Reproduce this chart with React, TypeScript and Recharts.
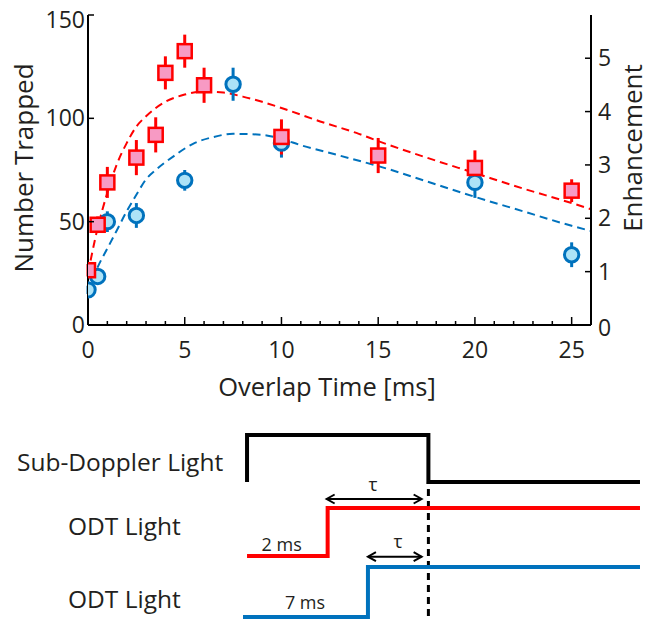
import React from 'react';
import {
  ComposedChart,
  LineChart,
  Line,
  Scatter,
  XAxis,
  YAxis,
  ErrorBar,
  ReferenceLine,
} from 'recharts';

const FONT = '"Open Sans", sans-serif';
const TEXT = '#231f20';
const RED = '#ff0000';
const PINK = '#f79ac4';
const BLUE = '#0072bd';
const LIGHTBLUE = '#ade3f7';

// ---- measured data (2 ms ODT, red squares) ----
const redX = [0, 0.5, 1, 2.5, 3.5, 4, 5, 6, 10, 15, 20, 25];
const redY = [26.5, 48.5, 69, 81, 92, 122, 132.5, 116, 91, 82, 76, 65];
const redErr = [3, 4, 7.5, 8.5, 8.5, 8, 8, 8.5, 8.5, 8.5, 8.5, 5.5];

// ---- measured data (7 ms ODT, blue circles) ----
const blueX = [0, 0.5, 1, 2.5, 5, 7.5, 10, 20, 25];
const blueY = [17, 23.5, 50, 53, 70, 116.5, 88, 69, 34];
const blueErr = [2, 2, 5, 6, 5, 8, 7, 7.5, 6];

// ---- fit curves ----
const redFitX = [0, 0.5, 1, 1.5, 2, 2.5, 3, 4, 5, 6, 7, 8, 9, 10, 12, 14, 15, 17.5, 20, 22.5, 25, 26];
const redFitY = [25, 47, 64, 78, 88, 96, 101, 108, 111.5, 113, 112.5, 110.5, 108, 105, 98.5, 92.5, 89, 81, 73.5, 66, 59, 56];
const blueFitX = [0, 0.5, 1, 1.5, 2, 2.5, 3, 3.5, 4.4, 5.5, 6.5, 7.5, 9, 10, 11, 13, 15.4, 17.5, 20, 22.5, 25, 26];
const blueFitY = [16, 28, 37, 46, 55, 63, 70.5, 75, 81.5, 88, 91, 92.5, 92, 90, 87, 82, 75.8, 69.5, 62, 55, 48, 45.5];

// ---- axes ----
const xTicks = [0, 1, 2, 3, 4, 5, 6, 7, 8, 9, 10, 11, 12, 13, 14, 15, 16, 17, 18, 19, 20, 21, 22, 23, 24, 25];
const leftTicks = [0, 50, 100, 150];
const rightTicks = [0, 1, 2, 3, 4, 5];

// ---- timing diagram (schematic units) ----
const subDoppler = [
  { t: -18, v: 13.7 },
  { t: 0, v: 18.4 },
  { t: 21, v: 13.7 },
];
const odt2 = [
  { t: -18, v: 6.3 },
  { t: -10, v: 11.1 },
  { t: 21, v: 11.1 },
];
const odt7 = [
  { t: -18.4, v: 0.2 },
  { t: -6, v: 5.2 },
  { t: 21, v: 5.2 },
];

const redPts = redX.map((x, i) => ({ x, y: redY[i], e: redErr[i] }));
const bluePts = blueX.map((x, i) => ({ x, y: blueY[i], e: blueErr[i] }));
const redFit = redFitX.map((x, i) => ({ x, y: redFitY[i] }));
const blueFit = blueFitX.map((x, i) => ({ x, y: blueFitY[i] }));

const BottomTick = (props: any) => {
  const { x, y, payload } = props;
  const v = payload.value;
  const major = v % 5 === 0;
  return (
    <g>
      <line x1={x} x2={x} y1={y} y2={y - (major ? 8 : 4)} stroke="#000" strokeWidth={1.5} />
      {major && (
        <text x={x} y={y + 33} textAnchor="middle" fill={TEXT} fontSize={23} fontFamily={FONT}>
          {v}
        </text>
      )}
    </g>
  );
};

const TopTick = (props: any) => {
  const { x, y, payload } = props;
  const major = payload.value % 5 === 0;
  return <line x1={x} x2={x} y1={y} y2={y + (major ? 8 : 4)} stroke="#000" strokeWidth={1.5} />;
};

const LeftTick = (props: any) => {
  const { x, y, payload } = props;
  const v = payload.value;
  const dy = v === 150 ? 5 : 0;
  return (
    <g>
      <line x1={x} x2={x + 6} y1={y} y2={y} stroke="#000" strokeWidth={1.5} />
      <text x={x - 3} y={y + 8 + dy} textAnchor="end" fill={TEXT} fontSize={23} fontFamily={FONT}>
        {v}
      </text>
    </g>
  );
};

const RightTick = (props: any) => {
  const { x, y, payload } = props;
  const v = payload.value;
  const dy = v === 0 ? 3 : 0;
  return (
    <g>
      <line x1={x} x2={x - 6} y1={y} y2={y} stroke="#000" strokeWidth={1.5} />
      <text x={x + 7} y={y + 8 + dy} textAnchor="start" fill={TEXT} fontSize={23} fontFamily={FONT}>
        {v}
      </text>
    </g>
  );
};

const Square = (props: any) => {
  const { cx, cy } = props;
  if (cx == null || cy == null) return null;
  return <rect x={cx - 7} y={cy - 7} width={14} height={14} fill={PINK} stroke={RED} strokeWidth={2.5} />;
};

const Circle = (props: any) => {
  const { cx, cy } = props;
  if (cx == null || cy == null) return null;
  return <circle cx={cx} cy={cy} r={7.2} fill={LIGHTBLUE} stroke={BLUE} strokeWidth={3} />;
};

const Arrow = (props: any) => {
  const { x1, y1, x2, y2 } = props;
  if (x1 == null) return null;
  const h = 8;
  const w = 4.5;
  return (
    <g stroke="#000" strokeWidth={2} fill="none">
      <line x1={x1} y1={y1} x2={x2} y2={y2} />
      <polyline points={`${x1 + h},${y1 - w} ${x1},${y1} ${x1 + h},${y1 + w}`} />
      <polyline points={`${x2 - h},${y2 - w} ${x2},${y2} ${x2 - h},${y2 + w}`} />
    </g>
  );
};

// tx = baseline position (rotated text reads bottom-to-top), ty = centre
const YTitle = ({ text, tx, ty }: any) => (
  <text
    x={tx}
    y={ty}
    transform={`rotate(-90 ${tx} ${ty})`}
    textAnchor="middle"
    fill={TEXT}
    fontSize={26}
    fontFamily={FONT}
  >
    {text}
  </text>
);

const XTitle = ({ text, tx, ty }: any) => (
  <text x={tx} y={ty} textAnchor="middle" fill={TEXT} fontSize={25.5} fontFamily={FONT}>
    {text}
  </text>
);

export default function App() {
  return (
    <div style={{ position: 'absolute', left: 0, top: 0, width: 650, height: 619, background: '#fff', fontFamily: FONT }}>
      <ComposedChart width={650} height={419} margin={{ top: 15, right: 19, left: 28, bottom: 0 }}>
        <XAxis
          xAxisId="top"
          orientation="top"
          type="number"
          dataKey="x"
          domain={[0, 26]}
          ticks={xTicks}
          interval={0}
          height={0}
          tickSize={0}
          tickMargin={0}
          tick={<TopTick />}
          tickLine={false}
          axisLine={{ stroke: '#000', strokeWidth: 2 }}
          allowDataOverflow
        />
        <XAxis
          type="number"
          dataKey="x"
          domain={[0, 26]}
          ticks={xTicks}
          interval={0}
          height={94}
          tickSize={0}
          tickMargin={0}
          tick={<BottomTick />}
          tickLine={false}
          axisLine={{ stroke: '#000', strokeWidth: 2 }}
          allowDataOverflow
          label={<XTitle text="Overlap Time [ms]" tx={327} ty={396} />}
        />
        <YAxis
          type="number"
          dataKey="y"
          domain={[0, 150]}
          ticks={leftTicks}
          interval={0}
          width={60}
          tickSize={0}
          tickMargin={0}
          tick={<LeftTick />}
          tickLine={false}
          axisLine={{ stroke: '#000', strokeWidth: 2 }}
          allowDataOverflow
          label={<YTitle text="Number Trapped" tx={33} ty={168} />}
        />
        <YAxis
          yAxisId="right"
          orientation="right"
          type="number"
          domain={[0, 5.81]}
          ticks={rightTicks}
          interval={0}
          width={40}
          tickSize={0}
          tickMargin={0}
          tick={<RightTick />}
          tickLine={false}
          axisLine={{ stroke: '#000', strokeWidth: 2 }}
          allowDataOverflow
          label={<YTitle text="Enhancement" tx={641.5} ty={148} />}
        />
        <Line
          data={redFit}
          dataKey="y"
          type="monotone"
          stroke={RED}
          strokeWidth={2}
          strokeDasharray="8 5"
          dot={false}
          activeDot={false}
          isAnimationActive={false}
        />
        <Line
          data={blueFit}
          dataKey="y"
          type="monotone"
          stroke={BLUE}
          strokeWidth={2}
          strokeDasharray="8 5"
          dot={false}
          activeDot={false}
          isAnimationActive={false}
        />
        <Scatter data={bluePts} dataKey="y" shape={<Circle />} isAnimationActive={false}>
          <ErrorBar dataKey="e" direction="y" width={0} stroke={BLUE} strokeWidth={3} />
        </Scatter>
        <Scatter data={redPts} dataKey="y" shape={<Square />} isAnimationActive={false}>
          <ErrorBar dataKey="e" direction="y" width={0} stroke={RED} strokeWidth={3} />
        </Scatter>
      </ComposedChart>

      <div style={{ position: 'absolute', left: 0, top: 419 }}>
        <LineChart width={650} height={200} margin={{ top: 0, right: 8, bottom: 0, left: 242 }}>
          <XAxis type="number" dataKey="t" domain={[-18.5, 21.2]} hide allowDataOverflow />
          <YAxis type="number" dataKey="v" domain={[0, 20]} hide allowDataOverflow />
          <ReferenceLine
            segment={[
              { x: 0, y: 0.3 },
              { x: 0, y: 13.7 },
            ]}
            stroke="#000"
            strokeWidth={3}
            strokeDasharray="7 5"
            ifOverflow="visible"
          />
          <Line data={subDoppler} dataKey="v" type="stepBefore" stroke="#000" strokeWidth={4} dot={false} activeDot={false} isAnimationActive={false} strokeLinejoin="miter" />
          <Line data={odt2} dataKey="v" type="stepAfter" stroke={RED} strokeWidth={4} dot={false} activeDot={false} isAnimationActive={false} strokeLinejoin="miter" />
          <Line data={odt7} dataKey="v" type="stepAfter" stroke={BLUE} strokeWidth={4} dot={false} activeDot={false} isAnimationActive={false} strokeLinejoin="miter" />
          <ReferenceLine
            segment={[
              { x: -10.1, y: 12.0 },
              { x: -0.67, y: 12.0 },
            ]}
            shape={<Arrow />}
            ifOverflow="visible"
          />
          <ReferenceLine
            segment={[
              { x: -6.0, y: 6.23 },
              { x: -0.67, y: 6.23 },
            ]}
            shape={<Arrow />}
            ifOverflow="visible"
          />
        </LineChart>
        <svg width={650} height={200} style={{ position: 'absolute', left: 0, top: 0, pointerEvents: 'none' }}>
          <g fill={TEXT} fontFamily={FONT}>
            <text x={17} y={52} fontSize={24.5}>Sub-Doppler Light</text>
            <text x={68} y={116} fontSize={24.5}>ODT Light</text>
            <text x={68} y={189} fontSize={24.5}>ODT Light</text>
            <text x={281.7} y={132} fontSize={18} textAnchor="middle">2 ms</text>
            <text x={305} y={190} fontSize={18} textAnchor="middle">7 ms</text>
            <text x={373} y={72} fontSize={19} textAnchor="middle">τ</text>
            <text x={398} y={129} fontSize={19} textAnchor="middle">τ</text>
          </g>
        </svg>
      </div>
    </div>
  );
}
